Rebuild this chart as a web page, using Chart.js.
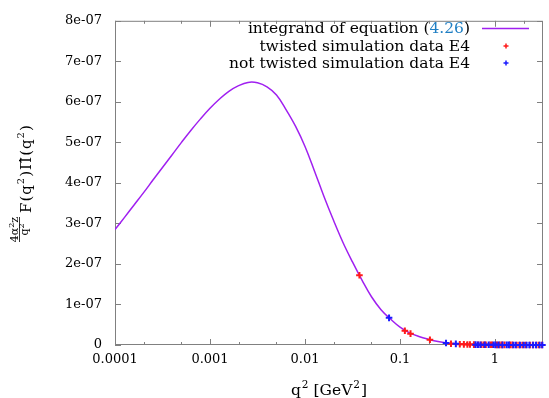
<!DOCTYPE html>
<html>
<head>
<meta charset="utf-8">
<script src="https://cdn.jsdelivr.net/npm/chart.js@4/dist/chart.umd.min.js"></script>
<style>
  body { margin: 0; background: #fff; }
</style>
</head>
<body>
<canvas id="plot" width="549" height="398"></canvas>
<script>
// values, y in units of 1e-7
const UNIT = 1e-7;
const curveQ2 = [1e-4, 1.26e-4, 1.58e-4, 2e-4, 2.51e-4, 3.16e-4, 3.98e-4, 5.01e-4, 6.31e-4, 7.94e-4,
  1e-3, 1.26e-3, 1.58e-3, 2e-3, 2.51e-3, 3.16e-3, 3.98e-3, 5.01e-3, 6.31e-3, 7.94e-3,
  0.01, 0.0126, 0.0158, 0.02, 0.0251, 0.0316, 0.0398, 0.0501, 0.0631, 0.0794,
  0.1, 0.126, 0.158, 0.2, 0.251, 0.316, 0.398, 0.501, 0.631, 0.794, 1, 1.58, 3.2];
const curveVal = [2.85, 3.15, 3.45, 3.76, 4.07, 4.38, 4.69, 5.0, 5.3, 5.58,
  5.84, 6.07, 6.26, 6.40, 6.48, 6.47, 6.37, 6.17, 5.81, 5.40,
  4.90, 4.29, 3.67, 3.07, 2.53, 2.05, 1.60, 1.19, 0.87, 0.64,
  0.44, 0.30, 0.21, 0.14, 0.085, 0.05, 0.03, 0.018, 0.011, 0.007, 0.005, 0.002, 0.0008];

const twistedQ2 = [0.0374, 0.1125, 0.129, 0.2065, 0.344, 0.426, 0.47, 0.512, 0.545, 0.60, 0.667, 0.72, 0.762, 0.80,
  0.893, 0.93, 1.049, 1.12, 1.18, 1.26, 1.44, 1.52, 1.69, 1.80, 1.94, 2.1, 2.33, 2.5, 2.73, 2.9, 3.12];
const twistedVal = [1.72, 0.35, 0.28, 0.13, 0.03, 0.02, 0.016, 0.013, 0.011, 0.01, 0.008, 0.007, 0.006, 0.0055,
  0.005, 0.0045, 0.004, 0.0035, 0.003, 0.0028, 0.002, 0.0019, 0.0015, 0.0013, 0.001, 0.001, 0.001, 0.0009, 0.0008, 0.0007, 0.0006];

const plainQ2 = [0.0767, 0.305, 0.387, 0.624, 0.66, 0.703, 0.78, 0.857, 0.966, 1.01, 1.089, 1.2, 1.33, 1.4,
  1.56, 1.65, 1.83, 2.0, 2.15, 2.3, 2.52, 2.7, 2.95, 3.15];
const plainVal = [0.67, 0.05, 0.028, 0.009, 0.008, 0.007, 0.006, 0.005, 0.0045, 0.004, 0.0035, 0.003, 0.0025, 0.0022,
  0.0018, 0.0016, 0.0012, 0.0011, 0.001, 0.0009, 0.0008, 0.0007, 0.0006, 0.0006];

const xTicks = [1e-4, 2e-4, 5e-4, 1e-3, 2e-3, 5e-3, 0.01, 0.02, 0.05, 0.1, 0.2, 0.5, 1, 2];
const xTickLabels = {1e-4: '0.0001', 1e-3: '0.001', 0.01: '0.01', 0.1: '0.1', 1: '1'};
const yTicks = [0, 1, 2, 3, 4, 5, 6, 7, 8];
const yTickLabels = ['0', '1e-07', '2e-07', '3e-07', '4e-07', '5e-07', '6e-07', '7e-07', '8e-07'];
const legendLabels = ['integrand of equation (', 'twisted simulation data E4', 'not twisted simulation data E4'];

const FONT = '"DejaVu Serif", serif';
const PURPLE = '#a020f0';
const RED = '#ff1a1a';
const BLUE = '#1a1aff';
const FRAME = '#808080';

function pts(xs, ys) {
  return xs.map((x, i) => ({ x: x, y: ys[i] * UNIT }));
}

// draw a row of text pieces: [text, size, rise, gapAfter, color]
function drawRun(ctx, parts, x, y, align) {
  let w = 0;
  parts.forEach(p => {
    ctx.font = p[1] + 'px ' + FONT;
    w += ctx.measureText(p[0]).width + (p[3] || 0);
  });
  let cx = align === 'center' ? x - w / 2 : align === 'right' ? x - w : x;
  ctx.textAlign = 'left';
  ctx.textBaseline = 'alphabetic';
  parts.forEach(p => {
    ctx.font = p[1] + 'px ' + FONT;
    ctx.fillStyle = p[4] || '#000';
    ctx.fillText(p[0], cx, y - (p[2] || 0));
    cx += ctx.measureText(p[0]).width + (p[3] || 0);
  });
  return w;
}

const framePlugin = {
  id: 'frame',
  beforeDatasetsDraw(chart) {
    const { ctx, chartArea: a, scales: { x, y } } = chart;
    ctx.save();
    ctx.strokeStyle = FRAME;
    ctx.lineWidth = 1;
    ctx.strokeRect(a.left + 0.5, a.top + 0.5, a.right - a.left - 1, a.bottom - a.top - 1);
    ctx.beginPath();
    xTicks.forEach(v => {
      const px = Math.round(x.getPixelForValue(v)) + 0.5;
      const len = xTickLabels[v] ? 6 : 3;
      ctx.moveTo(px, a.bottom); ctx.lineTo(px, a.bottom - len);
      ctx.moveTo(px, a.top); ctx.lineTo(px, a.top + len);
    });
    yTicks.forEach(v => {
      const py = Math.round(y.getPixelForValue(v * UNIT)) + 0.5;
      ctx.moveTo(a.left, py); ctx.lineTo(a.left + 6, py);
      ctx.moveTo(a.right, py); ctx.lineTo(a.right - 6, py);
    });
    ctx.stroke();
    ctx.restore();
  }
};

const labelPlugin = {
  id: 'labels',
  afterDraw(chart) {
    const { ctx, chartArea: a } = chart;
    ctx.save();
    // legend
    const tx = 470, lx0 = 482, lx1 = 529, mx = 506;
    const rows = [28, 46, 63];
    drawRun(ctx, [[legendLabels[0], 15.5], ['4.26', 15.5, 0, 0, '#1f7fc4'], [')', 15.5]], tx, rows[0] + 5, 'right');
    drawRun(ctx, [[legendLabels[1], 15.5]], tx, rows[1] + 5, 'right');
    drawRun(ctx, [[legendLabels[2], 15.5]], tx, rows[2] + 5, 'right');
    ctx.strokeStyle = PURPLE;
    ctx.lineWidth = 1.5;
    ctx.beginPath(); ctx.moveTo(lx0, rows[0] + 0.5); ctx.lineTo(lx1, rows[0] + 0.5); ctx.stroke();
    [[RED, rows[1]], [BLUE, rows[2]]].forEach(m => {
      ctx.strokeStyle = m[0];
      ctx.lineWidth = 1.5;
      ctx.beginPath();
      ctx.moveTo(mx - 2.5, m[1]); ctx.lineTo(mx + 2.5, m[1]);
      ctx.moveTo(mx, m[1] - 2.5); ctx.lineTo(mx, m[1] + 2.5);
      ctx.stroke();
    });

    // x title
    drawRun(ctx, [['q', 15.5, 0, 1], ['2', 10.5, 7, 5], ['[GeV', 15.5, 0, 1], ['2', 10.5, 7, 1], [']', 15.5]],
      (a.left + a.right) / 2, 395, 'center');

    // y title, rotated
    ctx.translate(31, 242);
    ctx.rotate(-Math.PI / 2);
    // fraction
    drawRun(ctx, [['4α', 11], ['2', 8, 4], ['z', 11]], 12.5, -13, 'center');
    ctx.strokeStyle = '#000';
    ctx.lineWidth = 0.8;
    ctx.beginPath(); ctx.moveTo(0, -11.5); ctx.lineTo(25, -11.5); ctx.stroke();
    drawRun(ctx, [['q', 11], ['2', 8, 4]], 12.5, -3, 'center');
    // main part
    drawRun(ctx, [['F', 15, 0, 1], ['(', 15, 0, 1], ['q', 15, 0, 1], ['2', 10, 7, 1], [')', 15, 0, 1],
      ['Π̂', 15, 0, 1], ['(', 15, 0, 1], ['q', 15, 0, 1], ['2', 10, 7, 1], [')', 15]], 29, 0, 'left');
    ctx.restore();
  }
};

new Chart(document.getElementById('plot'), {
  type: 'scatter',
  data: {
    datasets: [
      {
        label: legendLabels[2],
        data: pts(plainQ2, plainVal),
        pointStyle: 'cross',
        pointRadius: 3.3,
        pointBorderWidth: 2,
        pointBorderColor: BLUE,
        borderColor: BLUE,
        showLine: false,
        clip: false,
        order: 0
      },
      {
        label: legendLabels[1],
        data: pts(twistedQ2, twistedVal),
        pointStyle: 'cross',
        pointRadius: 3.3,
        pointBorderWidth: 2,
        pointBorderColor: RED,
        borderColor: RED,
        showLine: false,
        clip: false,
        order: 1
      },
      {
        label: legendLabels[0],
        data: pts(curveQ2, curveVal),
        showLine: true,
        pointRadius: 0,
        borderColor: PURPLE,
        borderWidth: 1.5,
        tension: 0.4,
        order: 2
      }
    ]
  },
  options: {
    responsive: false,
    animation: false,
    layout: { padding: { top: 14, right: 1, left: 0, bottom: 0 } },
    plugins: { legend: { display: false }, tooltip: { enabled: false } },
    scales: {
      x: {
        type: 'logarithmic',
        min: 1e-4,
        max: 3.2,
        afterBuildTicks: s => { s.ticks = xTicks.map(v => ({ value: v })); },
        afterFit: s => { s.height = 53; },
        grid: { display: false, drawTicks: false },
        border: { display: false },
        ticks: {
          autoSkip: false,
          maxRotation: 0,
          padding: 7,
          color: '#000',
          font: { family: FONT, size: 13 },
          callback: v => xTickLabels[v] || ''
        }
      },
      y: {
        min: 0,
        max: 8 * UNIT,
        afterBuildTicks: s => { s.ticks = yTicks.map(v => ({ value: v * UNIT })); },
        afterFit: s => { s.width = 115; },
        grid: { display: false, drawTicks: false },
        border: { display: false },
        ticks: {
          padding: 13,
          color: '#000',
          font: { family: FONT, size: 13 },
          callback: (v, i) => yTickLabels[i]
        }
      }
    }
  },
  plugins: [framePlugin, labelPlugin]
});
</script>
</body>
</html>
